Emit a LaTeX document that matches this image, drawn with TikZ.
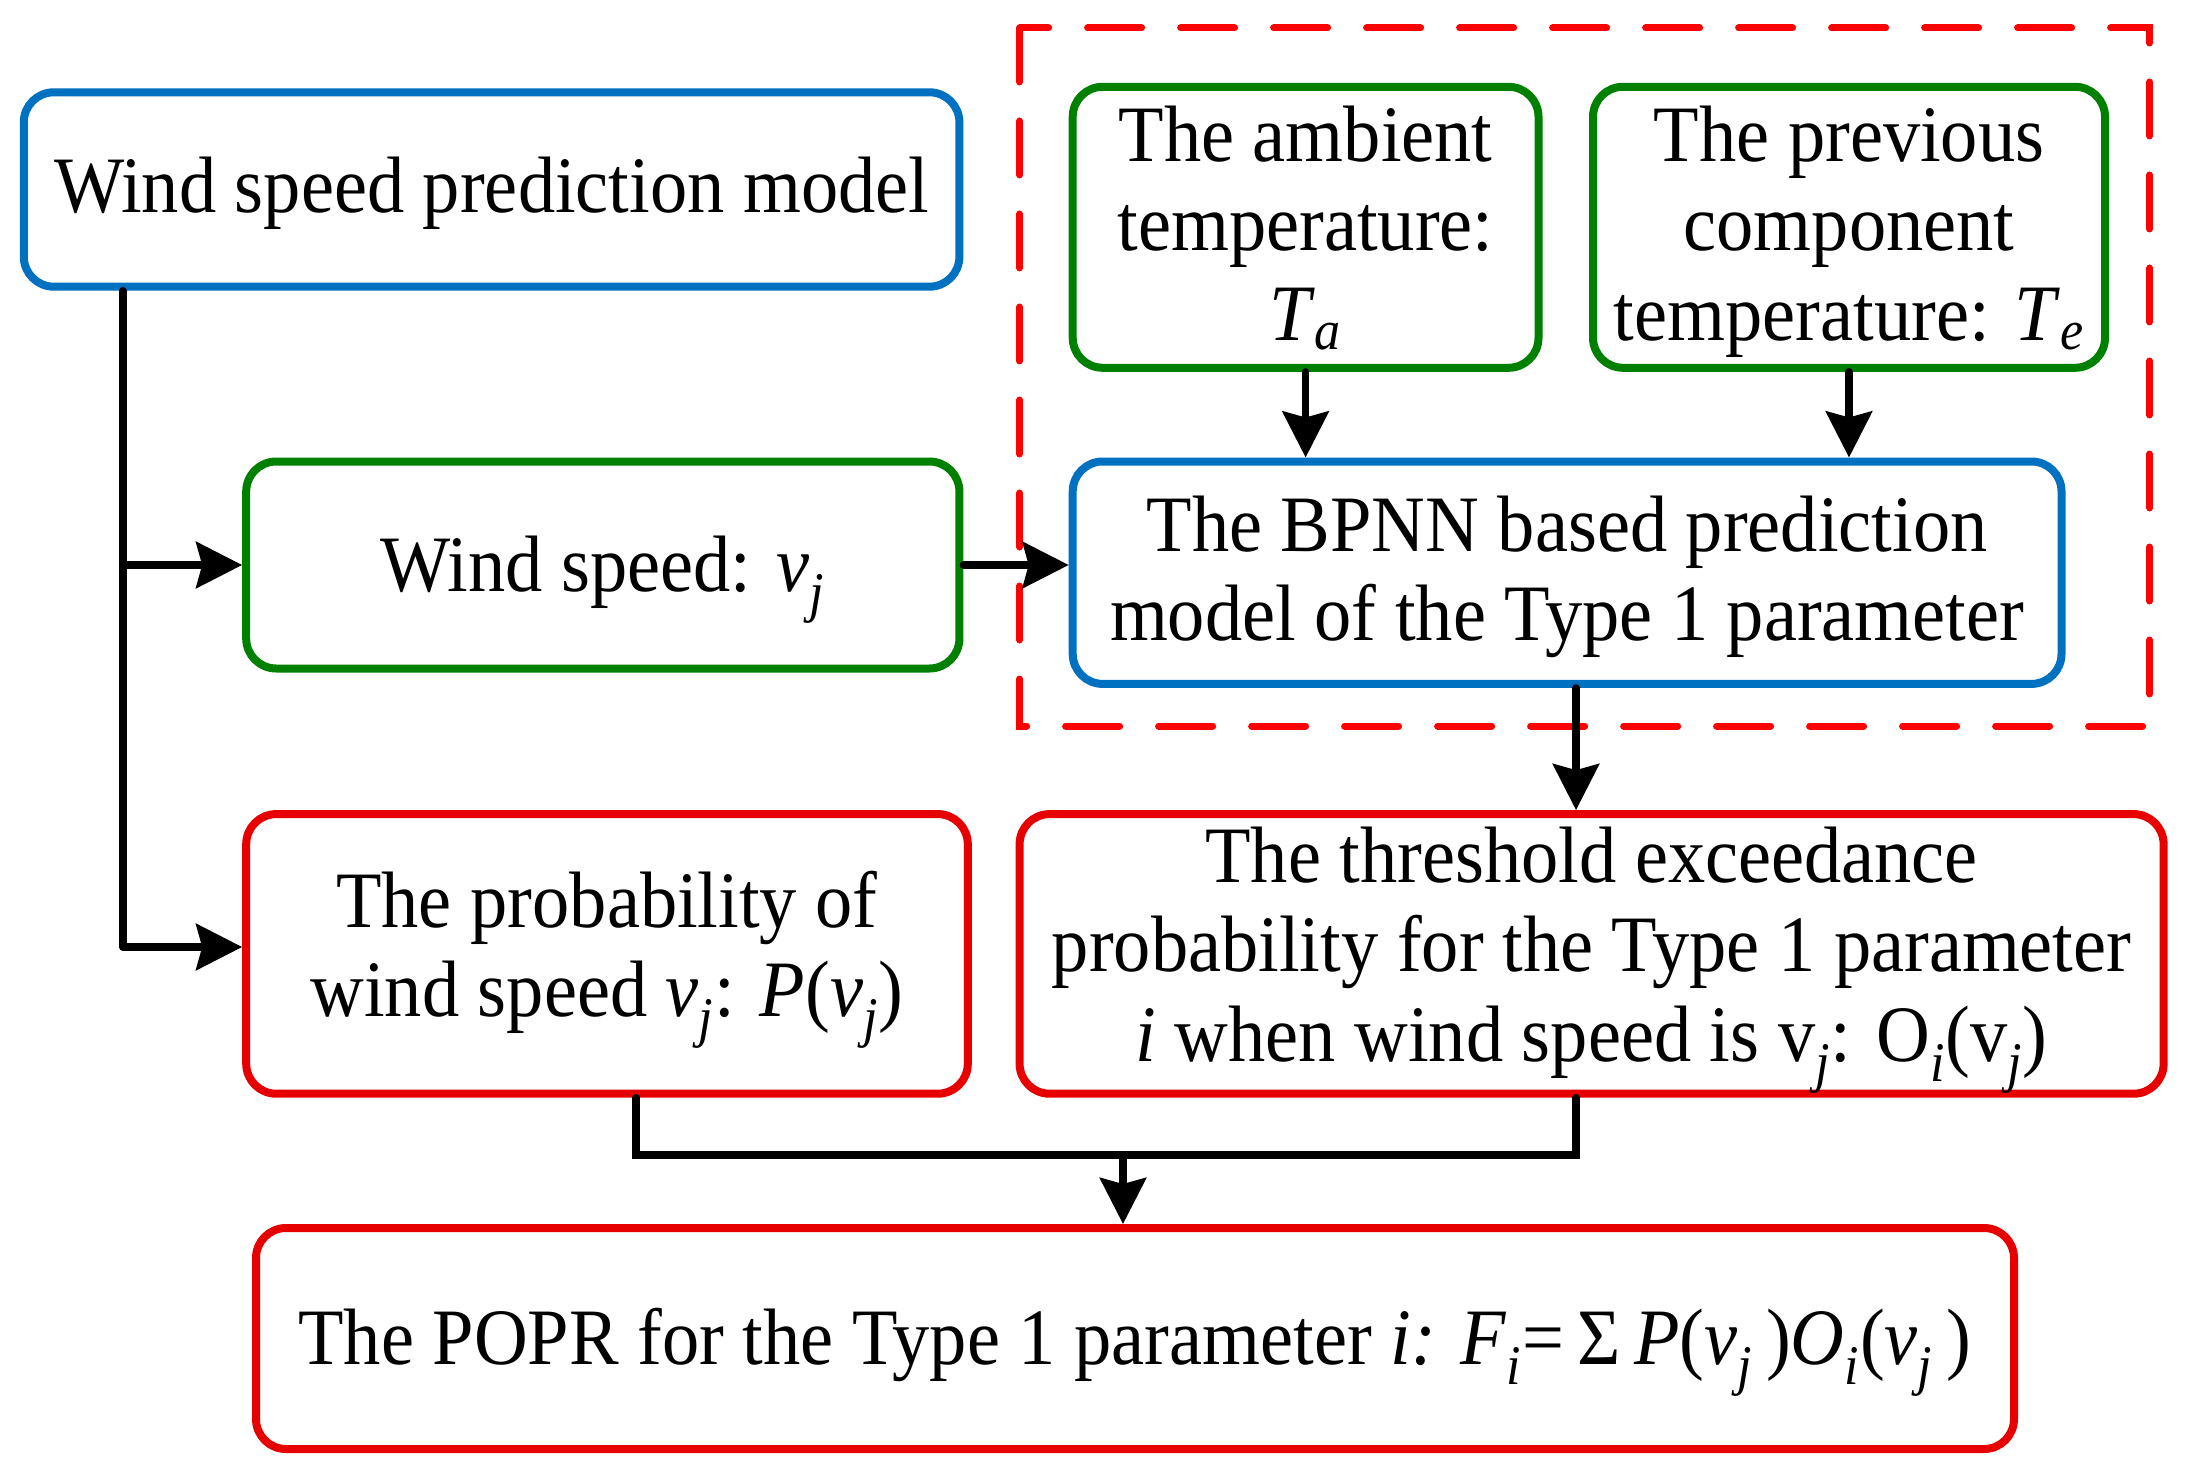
\documentclass[tikz,border=0pt]{standalone}
\usepackage{fontspec}
\setmainfont{Liberation Serif}[FakeStretch=0.93]
\usetikzlibrary{arrows.meta}
\definecolor{blueC}{HTML}{0070C0}
\definecolor{greenC}{HTML}{008000}
\definecolor{redC}{HTML}{E60000}
\definecolor{dashC}{HTML}{FF0000}
\newcommand{\sub}[1]{\textsubscript{\textit{#1}}}
\newcommand{\tstr}{\rule{0pt}{34pt}}
\newcommand{\tstrb}{\rule{0pt}{42pt}}
\newcommand{\bstr}{\rule[-10.6pt]{0pt}{10.6pt}}
\tikzset{
  bx/.style={draw, line width=4pt, rounded corners=15pt, align=center, inner sep=0pt,
    font=\fontsize{40pt}{44.8pt}\selectfont, text=black},
  bluebx/.style={bx, draw=blueC},
  greenbx/.style={bx, draw=greenC},
  redbx/.style={bx, draw=redC},
  conn/.style={line width=3.75pt, black, line cap=round, line join=miter},
  arr/.style={conn, -{Stealth[length=23pt, width=23pt, inset=3pt]}},
  dashbox/.style={draw=dashC, line width=3.5pt, line cap=round, dash pattern=on 27pt off 19.5pt}
}
\begin{document}
\begin{tikzpicture}[x=0.5pt, y=-0.5pt]
\useasboundingbox (0,0) rectangle (2193,1476);
\draw[dashbox] (1019.6,28) rectangle (2149.6,726);

\node[bluebx, minimum width=467.8pt, minimum height=97.2pt] (wspm) at (491.6,189.5) {\tstr Wind speed prediction model\bstr};
\node[greenbx, minimum width=232.9pt, minimum height=140.5pt] (amb) at (1305.6,227.3) {\tstr The ambient\\temperature:\\\textit{T}\sub{a}\bstr};
\node[greenbx, minimum width=256pt, minimum height=140.5pt] (prev) at (1849,227.3) {\tstr The previous\\component\\temperature: \textit{T}\sub{e}\bstr};
\node[greenbx, minimum width=356.6pt, minimum height=103.5pt] (ws) at (602.8,565) {\tstrb Wind speed: \textit{v}\sub{j}\bstr};
\node[bluebx, minimum width=494.4pt, minimum height=111.2pt] (bpnn) at (1567.1,572.7) {\tstr The BPNN based prediction\\model of the Type 1 parameter\bstr};
\node[redbx, minimum width=360.8pt, minimum height=139.8pt] (prob) at (607,953.9) {\tstr The probability of\\wind speed \textit{v}\sub{j}: \textit{P}(\textit{v}\sub{j})\bstr};
\node[redbx, minimum width=572pt, minimum height=139.8pt] (thr) at (1591.6,953.9) {\tstr The threshold exceedance\\probability for the Type 1 parameter\\\textit{i} when wind speed is v\sub{j}: O\sub{i}(v\sub{j})\bstr};
\node[redbx, minimum width=879pt, minimum height=110.5pt] (popr) at (1135,1338.5) {\tstrb The POPR for the Type 1 parameter \textit{i:} \textit{F}\sub{i}=\,Σ\,\textit{P}(\textit{v}\sub{j}\,)\textit{O}\sub{i}(\textit{v}\sub{j}\,)\bstr};

\coordinate (tx) at (123,947);
\coordinate (bx) at (1576,0);
\coordinate (px) at (636,0);
\coordinate (dx) at (1123,0);
\coordinate (jy) at (0,1155);

\draw[conn] (wspm.south -| tx) -- (tx);
\draw[arr] (ws.west -| tx) -- (ws.west);
\draw[arr] (tx) -- (tx -| prob.west);
\draw[arr] (ws.east) -- (ws.east -| bpnn.west);
\draw[arr] (amb.south) -- (amb.south |- bpnn.north);
\draw[arr] (prev.south) -- (prev.south |- bpnn.north);
\draw[arr] (bpnn.south -| bx) -- (thr.north -| bx);
\draw[conn] (prob.south -| px) -- (px |- jy) -- (bx |- jy) -- (thr.south -| bx);
\draw[arr] (dx |- jy) -- (popr.north -| dx);
\end{tikzpicture}
\end{document}
